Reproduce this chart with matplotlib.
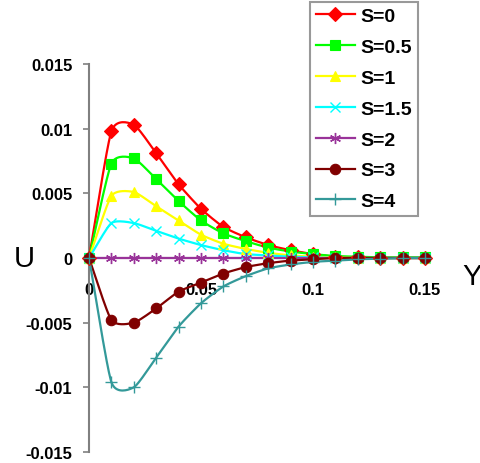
import numpy as np
import matplotlib
matplotlib.use("Agg")
import matplotlib.pyplot as plt
from matplotlib.lines import Line2D

plt.rcParams['font.family'] = ['Liberation Sans', 'DejaVu Sans']

# Distance from the wall
y_pos = [0.00, 0.01, 0.02, 0.03, 0.04, 0.05, 0.06, 0.07, 0.08,
         0.09, 0.10, 0.11, 0.12, 0.13, 0.14, 0.15]

# Velocity profiles U for each value of S
u_s0 = [0, 0.0098, 0.0103, 0.0081, 0.0057, 0.0038, 0.0024, 0.0016, 0.0010,
        0.0006, 0.0003, 0.0001, 0.00005, 0, 0, 0]
u_s05 = [0, 0.0073, 0.0077, 0.0061, 0.0044, 0.0029, 0.0019, 0.0013, 0.0008,
         0.0005, 0.0003, 0.00015, 0.0001, 0.00005, 0.00005, 0.00005]
u_s1 = [0, 0.0048, 0.0051, 0.0040, 0.0029, 0.0018, 0.0011, 0.0007, 0.0004,
        0.0002, 0.0001, 0.00005, 0, 0, 0, 0]
u_s15 = [0, 0.0027, 0.0027, 0.0021, 0.0015, 0.0010, 0.0006, 0.0003, 0.0002,
         0.0001, 0.00005, 0, 0, 0, 0, 0]
u_s2 = [0, 0, 0, 0, 0, 0, 0, 0, 0, 0, 0, 0, 0, 0, 0, 0]
u_s3 = [0, -0.0048, -0.0050, -0.0039, -0.0026, -0.0019, -0.0012, -0.0007, -0.0004,
        -0.0002, -0.0001, 0, 0, 0, 0, 0]
u_s4 = [0, -0.0096, -0.0100, -0.0077, -0.0053, -0.0035, -0.0022, -0.0014, -0.0008,
        -0.0005, -0.0003, -0.0002, -0.0001, -0.00005, 0, 0]

series_labels = ['S=0', 'S=0.5', 'S=1', 'S=1.5', 'S=2', 'S=3', 'S=4']
x_ticks = [0, 0.05, 0.1, 0.15]
x_tick_labels = ['0', '0.05', '0.1', '0.15']
y_ticks = [-0.015, -0.01, -0.005, 0, 0.005, 0.01, 0.015]
y_tick_labels = ['-0.015', '-0.01', '-0.005', '0', '0.005', '0.01', '0.015']

series = [u_s0, u_s05, u_s1, u_s15, u_s2, u_s3, u_s4]
colors = ['#FF0000', '#00FF00', '#FFFF00', '#00FFFF', '#993399', '#800000', '#339999']
markers = ['D', 's', '^', 'x', (6, 2, 0), 'o', '+']
msizes = [7.2, 7.0, 7.5, 7, 8, 7.5, 9]


def smooth(xs, ys, n=20, k=0.3):
    """Cardinal spline through the points (a gentle 'smoothed line')."""
    xs = np.asarray(xs, float)
    ys = np.asarray(ys, float)
    px = np.concatenate([[2 * xs[0] - xs[1]], xs, [2 * xs[-1] - xs[-2]]])
    py = np.concatenate([[2 * ys[0] - ys[1]], ys, [2 * ys[-1] - ys[-2]]])
    t = np.linspace(0, 1, n, endpoint=False)
    h00 = 2 * t ** 3 - 3 * t ** 2 + 1
    h10 = t ** 3 - 2 * t ** 2 + t
    h01 = -2 * t ** 3 + 3 * t ** 2
    h11 = t ** 3 - t ** 2
    ox, oy = [], []
    for i in range(1, len(px) - 2):
        for p, o in ((px, ox), (py, oy)):
            m1 = k * (p[i + 1] - p[i - 1])
            m2 = k * (p[i + 2] - p[i])
            o.extend(h00 * p[i] + h10 * m1 + h01 * p[i + 1] + h11 * m2)
    ox.append(xs[-1])
    oy.append(ys[-1])
    return np.array(ox), np.array(oy)


fig = plt.figure(figsize=(4.81, 4.64), dpi=100)
ax = fig.add_axes([89 / 481, 1 - 453 / 464, (425 - 89) / 481, (453 - 65) / 464])
ax.set_xlim(0, 0.15)
ax.set_ylim(-0.015, 0.015)

for sp in ['top', 'right']:
    ax.spines[sp].set_visible(False)
ax.spines['left'].set_position(('data', 0))
ax.spines['bottom'].set_position(('data', 0))
for sp in ['left', 'bottom']:
    ax.spines[sp].set_color('#808080')
    ax.spines[sp].set_linewidth(1.5)

handles = []
for ys, c, m, ms, lab in zip(series, colors, markers, msizes, series_labels):
    sx, sy = smooth(y_pos, ys)
    ax.plot(sx, sy, color=c, lw=1.6, zorder=3, clip_on=False)
    mew = 1.0 if m in ('x', '+') or isinstance(m, tuple) else 0.8
    ax.plot(y_pos, ys, linestyle='none', marker=m, color=c, ms=ms,
            markeredgecolor=c, markeredgewidth=mew, zorder=4, clip_on=False)
    handles.append(Line2D([], [], color=c, lw=1.6, marker=m, ms=ms,
                          markeredgecolor=c, markeredgewidth=mew, label=lab))

ax.set_yticks(y_ticks)
ax.set_yticklabels(y_tick_labels, fontsize=12, fontweight='bold')
ax.tick_params(axis='y', direction='out', length=4, width=1.2, color='#808080', pad=8)
ax.set_xticks(x_ticks)
ax.set_xticklabels(x_tick_labels, fontsize=12, fontweight='bold')
ax.tick_params(axis='x', length=0, pad=17)

fig.text(24 / 481, 1 - 259 / 464, 'U', fontsize=21, ha='center', va='center')
fig.text(472 / 481, 1 - 277 / 464, 'Y', fontsize=21, ha='center', va='center')

leg = fig.legend(handles=handles, loc='lower left',
                 bbox_to_anchor=(310 / 481, 1 - 217 / 464),
                 bbox_transform=fig.transFigure, borderaxespad=0,
                 fancybox=False, frameon=True, handlelength=2.0,
                 handletextpad=0.28, labelspacing=0.68, borderpad=0.3,
                 prop={'size': 14, 'weight': 'bold'})
leg.get_frame().set_edgecolor('#808080')
leg.get_frame().set_linewidth(1.5)

fig.savefig('out.png', dpi=100)
